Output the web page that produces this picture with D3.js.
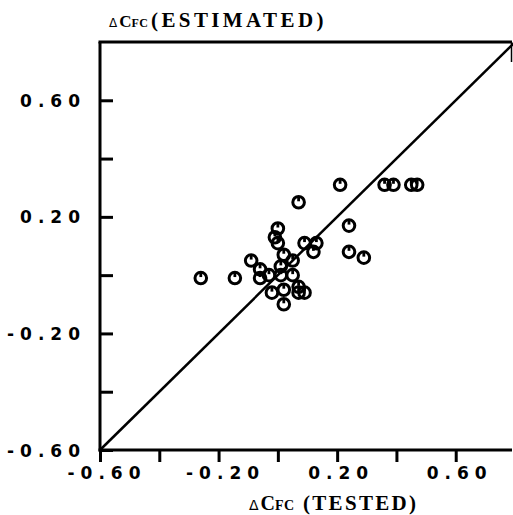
<!DOCTYPE html>
<html>
<head>
<meta charset="utf-8">
<script src="https://cdn.jsdelivr.net/npm/d3@7"></script>
<style>
  html, body { margin: 0; padding: 0; background: #fff; }
  svg { display: block; }
  .tick-label { font-family: "DejaVu Sans", sans-serif; font-weight: bold; font-size: 17px; letter-spacing: 6px; fill: #000; }
  .axis-title { font-family: "Liberation Serif", "Times New Roman", serif; font-weight: bold; fill: #000; }
</style>
</head>
<body>
<svg id="chart" width="513" height="515"></svg>
<script>
// Tested vs. estimated increments of the coefficient C_FC
const testedValues = [
  -0.26, -0.145, 0.07, 0.21, 0.24, 0.24, 0.29, 0.36, 0.39, 0.45, 0.47,
  0.00, -0.01, 0.00, 0.02, 0.05, 0.09, 0.13, 0.12, -0.09, -0.06, -0.06,
  -0.03, 0.01, 0.01, 0.05, -0.02, 0.02, 0.02, 0.07, 0.09, 0.07
];
const estimatedValues = [
  -0.01, -0.01, 0.25, 0.31, 0.17, 0.08, 0.06, 0.31, 0.31, 0.31, 0.31,
  0.16, 0.13, 0.11, 0.07, 0.05, 0.11, 0.11, 0.08, 0.05, 0.02, -0.01,
  0.00, 0.03, 0.00, 0.00, -0.06, -0.05, -0.10, -0.04, -0.06, -0.06
];
const axisDomain = [-0.6, 0.8];
const tickValues = [-0.6, -0.4, -0.2, 0.0, 0.2, 0.4, 0.6];
const labelledTicks = [-0.6, -0.2, 0.2, 0.6];
const tickLabels = ["-0.60", "-0.20", "0.20", "0.60"];

const svg = d3.select("#chart");
const plotLeft = 100, plotRight = 515, plotTop = 42, plotBottom = 450;
const frameRight = 512;

const x = d3.scaleLinear().domain(axisDomain).range([plotLeft, plotRight]);
const y = d3.scaleLinear().domain(axisDomain).range([plotBottom, plotTop]);

// frame: heavy top / left / bottom, short right edge
const frame = svg.append("g").attr("stroke", "#000").attr("fill", "none");
frame.append("line").attr("x1", plotLeft - 1.5).attr("x2", frameRight).attr("y1", plotTop).attr("y2", plotTop).attr("stroke-width", 3);
frame.append("line").attr("x1", plotLeft).attr("x2", plotLeft).attr("y1", plotTop).attr("y2", plotBottom + 1.5).attr("stroke-width", 3);
frame.append("line").attr("x1", plotLeft - 1.5).attr("x2", frameRight).attr("y1", plotBottom).attr("y2", plotBottom).attr("stroke-width", 3);
frame.append("line").attr("x1", frameRight - 0.5).attr("x2", frameRight - 0.5).attr("y1", plotTop).attr("y2", plotTop + 20).attr("stroke-width", 1.5);

// x axis: ticks hang below the baseline
const xAxis = d3.axisBottom(x).tickValues(tickValues).tickSize(12).tickFormat("");
const gx = svg.append("g").attr("transform", `translate(0,${plotBottom})`).call(xAxis);
gx.select(".domain").remove();
gx.selectAll(".tick line").attr("stroke", "#000").attr("stroke-width", 3);

// y axis: ticks point into the plot
const yAxis = d3.axisRight(y).tickValues(tickValues).tickSize(13).tickFormat("");
const gy = svg.append("g").attr("transform", `translate(${plotLeft},0)`).call(yAxis);
gy.select(".domain").remove();
gy.selectAll(".tick line").attr("stroke", "#000").attr("stroke-width", 3);

// tick labels (letter-spacing trails the last glyph, hence the +3 / +6 shifts)
svg.append("g").selectAll("text").data(labelledTicks).join("text")
  .attr("class", "tick-label")
  .attr("x", d => x(d) + 3 + (d < 0 ? 4 : 1))
  .attr("y", 479)
  .attr("text-anchor", "middle")
  .text((d, i) => tickLabels[i]);

svg.append("g").selectAll("text").data(labelledTicks).join("text")
  .attr("class", "tick-label")
  .attr("x", 86)
  .attr("y", d => y(d) + 6.5)
  .attr("text-anchor", "end")
  .text((d, i) => tickLabels[i]);

// axis titles: ΔC with small-caps FC, then the spaced word in parentheses
function axisTitle(opt) {
  const t = svg.append("text").attr("class", "axis-title")
    .attr("font-family", "Liberation Serif, serif")
    .attr("x", opt.x).attr("y", opt.y);
  t.append("tspan").attr("font-size", opt.delta).attr("font-family", "DejaVu Sans").attr("font-weight", "normal").text("Δ");
  t.append("tspan").attr("font-size", opt.c).attr("dx", 2).text("C");
  t.append("tspan").attr("font-size", opt.fc).attr("letter-spacing", 0.5).text("FC");
  t.append("tspan").attr("font-size", 21).attr("x", opt.paren).attr("letter-spacing", opt.spacing).text("(" + opt.word + ")");
  return t;
}
axisTitle({ x: 109, y: 27, delta: 12, c: 17, fc: 12, paren: 151, word: "ESTIMATED", spacing: 3.4 });
axisTitle({ x: 249, y: 510, delta: 14, c: 20, fc: 14, paren: 303, word: "TESTED", spacing: 2.3 });

// reference line y = x
svg.append("line")
  .attr("x1", x(axisDomain[0])).attr("y1", y(axisDomain[0]))
  .attr("x2", x(axisDomain[1])).attr("y2", y(axisDomain[1]))
  .attr("stroke", "#000").attr("stroke-width", 2.5);

// data markers: open circle with a notch at the top
const pts = testedValues.map((v, i) => ({ t: v, e: estimatedValues[i] }));
const marks = svg.append("g").selectAll("g").data(pts).join("g")
  .attr("transform", d => `translate(${x(d.t)},${y(d.e)})`);
marks.append("circle").attr("r", 5.8).attr("fill", "none").attr("stroke", "#000").attr("stroke-width", 3);
marks.append("line").attr("x1", 0).attr("x2", 0).attr("y1", -5).attr("y2", -1)
  .attr("stroke", "#000").attr("stroke-width", 2.8);
</script>
</body>
</html>
